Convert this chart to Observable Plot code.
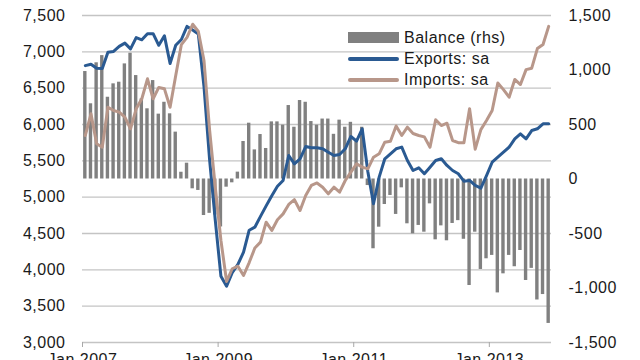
<!DOCTYPE html>
<html><head><meta charset="utf-8">
<script src="https://cdn.jsdelivr.net/npm/d3@7"></script>
<script src="https://cdn.jsdelivr.net/npm/@observablehq/plot@0.6"></script>
<style>
html,body{margin:0;padding:0;background:#fff;overflow:hidden;width:640px;height:360px}
#wrap{position:relative;width:640px;height:360px;overflow:hidden}
.legend{position:absolute;left:348px;top:27px;font:16px "Liberation Sans",Arial,sans-serif;color:#1a1a1a;letter-spacing:0.5px}
.legend .row{display:flex;align-items:center;height:21px}
.legend .sw{width:51px;margin-right:5px}
</style></head><body><div id="wrap"></div>
<script>
// Monthly data, Jan 2007 .. Nov 2013
const balance = [986, 690, 1066, 1132, 750, 873, 888, 1056, 1154, 949,
 735, 644, 903, 595, 704, 598, 430, 62, 145, -90,
 -105, -335, -315, -330, -440, -75, -35, 63, 344, 512,
 267, 408, 280, 524, 524, 494, 674, 475, 720, 704,
 527, 494, 550, 550, 410, 540, 475, 520, 350, 475,
 -60, -640, -442, -234, -151, -325, -81, -411, -503, -426,
 -488, -228, -558, -430, -567, -408, -382, -553, -977, -488,
 -830, -732, -701, -1045, -870, -701, -805, -656, -931, -820,
 -1110, -1060, -1325];
const exportsSa = [6810, 6830, 6775, 6770, 6995, 7005, 7075, 7120, 7041, 7195,
 7165, 7250, 7250, 7090, 7220, 6840, 7090, 7170, 7350, 7300,
 7245, 6520, 5510, 4680, 3910, 3775, 3960, 4075, 4243, 4545,
 4587, 4735, 4880, 5020, 5150, 5230, 5573, 5459, 5528, 5697,
 5680, 5679, 5666, 5619, 5574, 5587, 5666, 5835, 5771, 5941,
 5350, 4909, 5275, 5528, 5597, 5666, 5689, 5505, 5367, 5404,
 5322, 5413, 5505, 5528, 5436, 5367, 5322, 5220, 5230, 5161,
 5125, 5298, 5481, 5550, 5619, 5688, 5803, 5872, 5803, 5917,
 5941, 6010, 6010];
const importsSa = [5849, 6147, 5734, 5688, 6238, 6193, 6170, 6101, 5941, 6216,
 6354, 6629, 6354, 6510, 6491, 6238, 6674, 7100, 7200, 7380,
 7280, 6880, 5918, 5137, 4404, 3840, 4015, 4050, 3922, 4100,
 4300, 4381, 4656, 4542, 4690, 4770, 4900, 4965, 4817, 5023,
 5161, 5195, 5137, 5046, 5137, 5069, 5229, 5344, 5459, 5413,
 5390, 5550, 5597, 5757, 5770, 5980, 5849, 5963, 5876, 5849,
 5830, 5688, 6065, 5986, 6018, 5780, 5750, 5750, 6216, 5660,
 5930, 6055, 6193, 6570, 6480, 6376, 6620, 6550, 6755, 6775,
 7045, 7100, 7350];
const leftTicks = [3000, 3500, 4000, 4500, 5000, 5500, 6000, 6500, 7000, 7500];
const rightTicks = [-1500, -1000, -500, 0, 500, 1000, 1500];
const xTickLabels = ["Jan 2007", "Jan 2009", "Jan 2011", "Jan 2013"];
const xTickMonths = [0, 24, 48, 72];
const seriesNames = ["Balance (rhs)", "Exports: sa", "Imports: sa"];
const colors = ["#808080", "#2a5a92", "#b8978a"];

const rows = balance.map((b, i) => ({i, bal: b, exp: exportsSa[i], imp: importsSa[i]}));
const zeroL = 5250, k = 1.5;           // right axis: 0 aligns with 5,250 on left, 1 unit = 1.5 left units
const toLeft = r => zeroL + k * r;
const fmt = v => (v < 0 ? "-" : "") + d3.format(",")(Math.abs(v));

const chart = Plot.plot({
  width: 640, height: 372,
  marginTop: 15, marginBottom: 30, marginLeft: 82, marginRight: 89,
  x: {domain: [0, 83]},
  y: {domain: [3000, 7500]},
  style: {fontFamily: "'Liberation Sans', Arial, sans-serif", fontSize: "16px", color: "#1a1a1a", background: "white", letterSpacing: "0.5px"},
  marks: [
    Plot.ruleY(leftTicks, {stroke: "#c4c4c4", strokeWidth: 1.3}),
    Plot.rect(rows, {x1: d => d.i + 0.2, x2: d => d.i + 0.8, y1: () => zeroL, y2: d => toLeft(d.bal), fill: colors[0]}),
    Plot.line(rows, {x: d => d.i + 0.5, y: "exp", stroke: colors[1], strokeWidth: 3, strokeLinejoin: "round"}),
    Plot.line(rows, {x: d => d.i + 0.5, y: "imp", stroke: colors[2], strokeWidth: 3, strokeLinejoin: "round"}),
    Plot.axisY({anchor: "left", ticks: leftTicks, tickSize: 0, tickPadding: 17, tickFormat: fmt, label: null}),
    Plot.axisY({anchor: "right", ticks: rightTicks.map(toLeft), tickSize: 0, tickPadding: 17, tickFormat: v => fmt(Math.round((v - zeroL) / k)), label: null}),
    Plot.axisX({ticks: xTickMonths, tickFormat: d => xTickLabels[xTickMonths.indexOf(d)], tickSize: 5, tickPadding: 6, stroke: "#a8a8a8", label: null})
  ]
});
const wrap = document.getElementById("wrap");
wrap.appendChild(chart);

const legend = document.createElement("div");
legend.className = "legend";
seriesNames.forEach((name, j) => {
  const row = document.createElement("div");
  row.className = "row";
  const sw = document.createElement("div");
  sw.className = "sw";
  sw.style.background = colors[j];
  sw.style.height = j === 0 ? "11px" : "4px";
  sw.style.borderRadius = j === 0 ? "0" : "2px";
  const t = document.createElement("span");
  t.textContent = name;
  row.appendChild(sw); row.appendChild(t);
  legend.appendChild(row);
});
wrap.appendChild(legend);
</script></body></html>
